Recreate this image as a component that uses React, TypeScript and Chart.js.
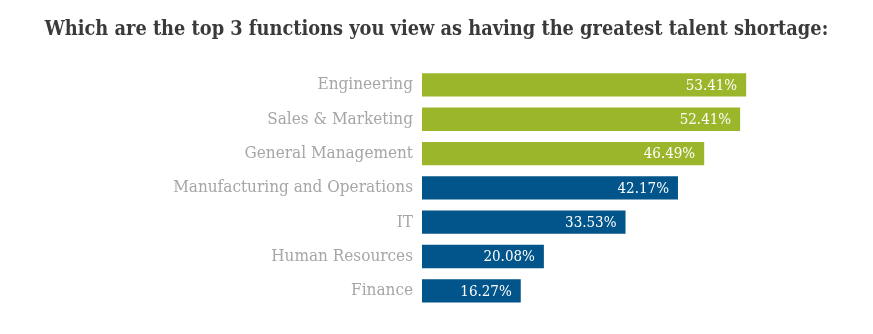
import React, { useEffect, useRef } from "react";
import { Chart, registerables } from "chart.js";

Chart.register(...registerables);

const titleText = "Which are the top 3 functions you view as having the greatest talent shortage:";
const categories = [
  "Engineering",
  "Sales & Marketing",
  "General Management",
  "Manufacturing and Operations",
  "IT",
  "Human Resources",
  "Finance",
];
const values = [53.41, 52.41, 46.49, 42.17, 33.53, 20.08, 16.27];
const topCount = 3;

const GREEN = "#9bb62b";
const BLUE = "#02558a";
const SERIF = "'DejaVu Serif Condensed', 'DejaVu Serif', serif";

const valueLabels = {
  id: "valueLabels",
  afterDatasetsDraw(chart: any) {
    const ctx = chart.ctx;
    const meta = chart.getDatasetMeta(0);
    ctx.save();
    ctx.font = `15px ${SERIF}`;
    ctx.fillStyle = "#ffffff";
    ctx.textAlign = "right";
    ctx.textBaseline = "middle";
    meta.data.forEach((bar: any, i: number) => {
      ctx.fillText(values[i].toFixed(2) + "%", bar.x - 9, bar.y + 1);
    });
    ctx.restore();
  },
};

export default function App() {
  const ref = useRef<HTMLCanvasElement>(null);
  useEffect(() => {
    if (!ref.current) return;
    const chart = new Chart(ref.current, {
      type: "bar",
      data: {
        labels: categories,
        datasets: [
          {
            data: values,
            backgroundColor: values.map((_, i) => (i < topCount ? GREEN : BLUE)),
            categoryPercentage: 0.68,
            barPercentage: 1,
          },
        ],
      },
      options: {
        indexAxis: "y",
        animation: false,
        responsive: false,
        layout: { padding: { left: 0, right: 0, top: 0, bottom: 26 } },
        plugins: {
          legend: { display: false },
          tooltip: { enabled: false },
          title: {
            display: true,
            text: titleText,
            color: "#3a3a3a",
            font: { family: SERIF, size: 19.8, weight: "bold" },
            padding: { top: 18, bottom: 26 },
          },
        },
        scales: {
          x: { display: false, min: 0, max: 74.3 },
          y: {
            grid: { display: false, drawTicks: false },
            border: { display: false },
            ticks: {
              color: "#a6a6a6",
              font: { family: SERIF, size: 17 },
              padding: 9,
            },
            afterFit(scale: any) {
              scale.width = 422;
            },
          },
        },
      },
      plugins: [valueLabels],
    });
    return () => chart.destroy();
  }, []);
  return (
    <div style={{ position: "fixed", left: 0, top: 0, width: 873, height: 334, background: "#fff" }}>
      <canvas ref={ref} width={873} height={334} style={{ display: "block" }} />
    </div>
  );
}
